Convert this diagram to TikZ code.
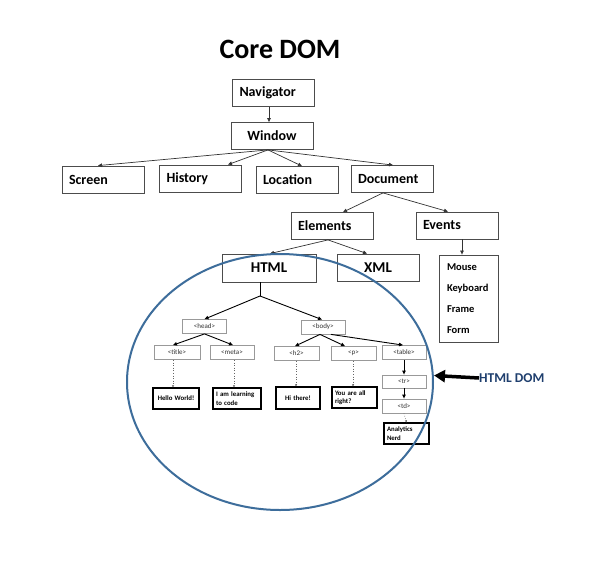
\documentclass[tikz,border=0pt]{standalone}
\usepackage{fontspec}
\setmainfont{Carlito}
\usetikzlibrary{arrows.meta}
\definecolor{ring}{HTML}{3D6D9B}
\definecolor{domblue}{HTML}{1F3F6E}
\begin{document}
\begin{tikzpicture}[x=1pt,y=-1pt,
  mbox/.style={draw=black!70, line width=0.8pt, minimum height=27pt, text width=68pt, inner xsep=7pt, inner ysep=0pt, align=left, font=\fontsize{14}{16}\selectfont\bfseries},
  cbox/.style={mbox, align=center},
  arr/.style={draw=black!80, line width=0.7pt, -{Triangle[length=4pt,width=3.5pt]}},
  tag/.style={draw=black!40, line width=0.8pt, minimum width=44pt, minimum height=14pt, inner sep=0pt, font=\fontsize{7}{8}\selectfont, text=black!80},
  leaf/.style={draw=black, line width=1.3pt, minimum width=46pt, minimum height=21pt, inner xsep=3pt, inner ysep=0pt, text width=40pt, font=\fontsize{6.8}{8.5}\selectfont\bfseries},
  tarr/.style={draw=black, line width=0.9pt, -{Triangle[length=4pt,width=3.5pt]}},
  dots/.style={draw=black!60, line width=0.6pt, dotted, -{Triangle[length=2pt,width=2pt]}}
]
\useasboundingbox[fill=white] (0,0) rectangle (595,563);

\node[font=\fontsize{28}{30}\selectfont\bfseries] (title) at (280,49) {Core DOM};

\node[mbox] (nav) at (273.5,93) {Navigator};
\node[cbox] (win) at (272,136) {Window};
\node[mbox] (scr) at (103,179.5) {Screen};
\node[mbox] (hist) at (200.5,178.5) {History};
\node[mbox] (loc) at (297,180) {Location};
\node[mbox] (doc) at (392,179) {Document};
\node[mbox] (elem) at (332,226) {Elements};
\node[mbox] (ev) at (457,225.5) {Events};
\node[cbox, text width=80pt, minimum height=28pt, font=\fontsize{15}{17}\selectfont\bfseries] (html) at (269,268) {HTML};
\node[cbox, font=\fontsize{15}{17}\selectfont\bfseries] (xml) at (378,267.5) {XML};
\node[draw=black!70, line width=0.8pt, minimum height=87pt, text width=43pt, inner xsep=8pt, inner ysep=0pt, align=left, font=\fontsize{10.5}{21}\selectfont\bfseries] (mouse) at (468.5,298.5) {Mouse\\Keyboard\\Frame\\Form};

\draw[arr] ([xshift=-4.5pt]nav.south) -- ([xshift=-3pt]win.north);
\draw[arr] ([xshift=-4pt]win.south) -- ([xshift=-5pt]scr.north);
\draw[arr] ([xshift=-4pt]win.south) -- ([xshift=27.5pt]hist.north);
\draw[arr] ([xshift=-4pt]win.south) -- ([xshift=5pt]loc.north);
\draw[arr] ([xshift=-4pt]win.south) -- ([xshift=1pt]doc.north);
\draw[arr] ([xshift=-9pt]doc.south) -- ([xshift=11pt]elem.north);
\draw[arr] ([xshift=-9pt]doc.south) -- ([xshift=-9pt]ev.north);
\draw[arr] ([xshift=-4pt]elem.south) -- ([xshift=1pt]html.north);
\draw[arr] ([xshift=-4pt]elem.south) -- ([xshift=-11pt]xml.north);
\draw[arr] ([xshift=5pt]ev.south) -- ([xshift=-6.5pt]mouse.north);

% HTML subtree
\node[tag] (head) at (204.5,326.5) {<head>};
\node[tag] (body) at (323,327) {<body>};
\node[tag, minimum width=46pt] (ttl) at (177,352.5) {<title>};
\node[tag] (meta) at (232,352.5) {<meta>};
\node[tag, minimum width=45pt] (h2) at (296.5,353.5) {<h2>};
\node[tag, minimum width=45pt] (par) at (353.5,353.5) {<p>};
\node[tag] (tab) at (404,352.5) {<table>};
\node[tag, minimum height=13pt] (tr) at (404,381.5) {<tr>};
\node[tag] (td) at (404,406) {<td>};

\node[leaf, align=center] (hello) at (176,398.5) {Hello World!\\[5pt]};
\node[leaf, minimum width=48pt, text width=42pt, align=left] (learn) at (237,398.5) {I am learning\\to code};
\node[leaf, minimum width=44pt, text width=38pt, align=center, minimum height=22pt] (hi) at (298,398) {Hi there!\\[5pt]};
\node[leaf, minimum width=45pt, text width=39pt, align=left] (you) at (354.5,397.5) {You are all\\right?};
\node[leaf, minimum width=45pt, text width=39pt, align=left] (ana) at (406.5,433.5) {Analytics\\Nerd};

\coordinate (j) at (260,296);
\draw[draw=black, line width=0.9pt] ([xshift=-9pt]html.south) -- (j);
\draw[tarr] (j) -- (head.north);
\draw[tarr] (j) -- ([xshift=-1pt]body.north);
\draw[tarr] (head.south) -- ([xshift=-4pt]ttl.north);
\draw[tarr] (head.south) -- ([xshift=1pt]meta.north);
\draw[tarr] ([xshift=-3pt]body.south) -- ([xshift=-1.5pt]h2.north);
\draw[tarr] ([xshift=-3pt]body.south) -- ([xshift=-8.5pt]par.north);
\draw[tarr] ([xshift=8pt]body.south) -- ([xshift=-1pt]tab.north);
\draw[tarr] (tab.south) -- (tr.north);
\draw[tarr] (tr.south) -- (td.north);
\draw[dots] (td.south) -- (ana.north);
\draw[dots] ([xshift=-4pt]ttl.south) -- ([xshift=-3pt]hello.north);
\draw[dots] ([xshift=2pt]meta.south) -- ([xshift=-3pt]learn.north);
\draw[dots] ([xshift=-0.5pt]h2.south) -- ([xshift=-2pt]hi.north);
\draw[dots] ([xshift=-0.5pt]par.south) -- ([xshift=-1.5pt]you.north);

\draw[ring, line width=2pt] (280,382) ellipse [x radius=153pt, y radius=128pt];

\node[anchor=west, text=domblue, font=\fontsize{13.5}{15}\selectfont\bfseries, inner sep=0pt] (dom) at (479,378) {HTML DOM};
\coordinate (domtip) at (434,375.5);
\draw[line width=3.5pt, -{Triangle[length=11pt,width=12pt]}] (dom.west) -- (domtip);
\end{tikzpicture}
\end{document}
